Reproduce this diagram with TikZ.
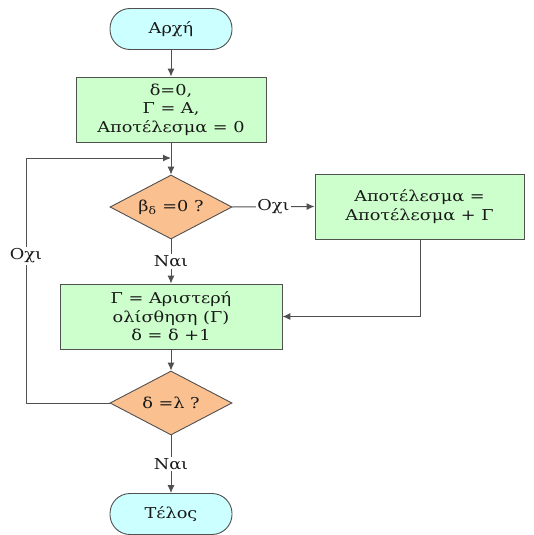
\documentclass[tikz,border=0pt]{standalone}
\usepackage{fontspec}
\setmainfont[FakeStretch=1.18]{DejaVu Serif}
\usetikzlibrary{shapes.geometric,arrows.meta}
\definecolor{termfill}{HTML}{CCFFFF}
\definecolor{procfill}{HTML}{CCFFCC}
\definecolor{decfill}{HTML}{FAC090}
\definecolor{linegray}{HTML}{505050}
\begin{document}
\begin{tikzpicture}[x=1pt,y=-1pt,
  every node/.style={font=\fontsize{15}{18.5}\selectfont, text=black!90},
  terminal/.style={draw=linegray, line width=0.9pt, fill=termfill, rounded corners=20pt,
    minimum width=122pt, minimum height=41pt, inner sep=0pt},
  procbox/.style={draw=linegray, line width=0.9pt, fill=procfill, align=center,
    minimum height=65pt, inner sep=0pt},
  decision/.style={draw=linegray, line width=0.9pt, fill=decfill, diamond, aspect=1.9,
    minimum width=122pt, minimum height=64pt, inner sep=0pt},
  flow/.style={draw=linegray, line width=1pt, -{Latex[length=8pt,width=7pt]}},
  plain/.style={draw=linegray, line width=1pt},
  lbl/.style={fill=white, inner sep=1.5pt}]
\useasboundingbox (0,0) rectangle (533,535);

\node[terminal] (start) at (171,29) {Αρχή};
\node[procbox, minimum width=190pt] (init) at (171,109.5) {δ=0,\\ Γ = Α,\\ Αποτέλεσμα = 0};
\node[decision] (test) at (171,207) {β\textsubscript{δ} =0 ?};
\node[procbox, minimum width=209pt] (add) at (419.5,206.5) {Αποτέλεσμα =\\ Αποτέλεσμα + Γ};
\node[procbox, minimum width=222pt] (shift) at (171,316.5) {Γ = Αριστερή\\ ολίσθηση (Γ)\\ δ = δ +1};
\node[decision] (check) at (171,403) {δ =λ ?};
\node[terminal] (stop) at (171,514) {Τέλος};

\coordinate (join) at (171,158);
\coordinate (loopbot) at (26,403);
\coordinate (looptop) at (26,158);

\draw[flow] (start) -- (init);
\draw[flow] (init) -- (test);
\draw[flow] (test.east) -- node[lbl] {Οχι} (add.west);
\draw[flow] (test.south) -- node[lbl, pos=0.5] {Ναι} (shift.north);
\draw[flow] (add.south -| 420,0) |- (shift.east);
\draw[flow] (shift) -- (check);
\draw[flow] (check.south) -- node[lbl] {Ναι} (stop.north);
\draw[plain] (check.west) -- (loopbot) -- node[lbl, pos=0.6] {Οχι} (looptop);
\draw[flow] (looptop) -- (join);
\end{tikzpicture}
\end{document}
